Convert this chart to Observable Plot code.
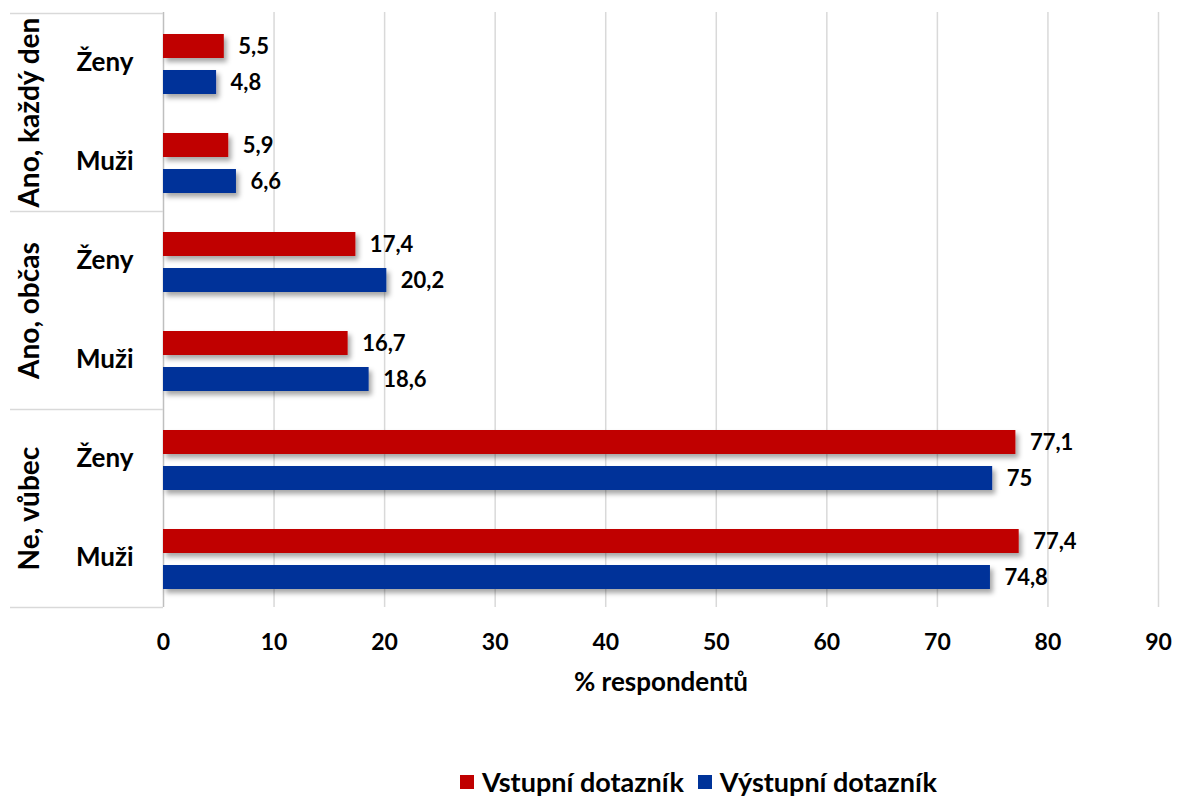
<!DOCTYPE html>
<html>
<head>
<meta charset="utf-8">
<script src="https://cdn.jsdelivr.net/npm/d3@7"></script>
<script src="https://cdn.jsdelivr.net/npm/@observablehq/plot@0.6"></script>
<style>
  body { margin: 0; background: #fff; font-family: Lato, "Open Sans", sans-serif; }
  #wrap { position: relative; width: 1177px; height: 800px; }
  #legend { position: absolute; left: 0; width: 1177px; top: 765px; display: flex; justify-content: center; gap: 14px; font-weight: bold; font-size: 27px; color: #000; padding-left: 220px; box-sizing: border-box; }
  #legend .item { display: flex; align-items: center; gap: 8px; }
  #legend .sw { width: 14px; height: 14px; display: inline-block; }
</style>
</head>
<body>
<div id="wrap"><div id="chart"></div><div id="legend"></div></div>
<script>
const groups = ["Ano, každý den", "Ano, občas", "Ne, vůbec"];
const genders = ["Ženy", "Muži"];
const seriesNames = ["Vstupní dotazník", "Výstupní dotazník"];
const seriesColors = ["#c00000", "#003399"];
// values in order: group x gender
const vstupni = [5.5, 5.9, 17.4, 16.7, 77.1, 77.4];
const vystupni = [4.8, 6.6, 20.2, 18.6, 75, 74.8];
const xTicks = [0, 10, 20, 30, 40, 50, 60, 70, 80, 90];
const xTitle = "% respondentů";

const keys = [];
const rows = [];
groups.forEach((g, gi) => genders.forEach((s, si) => {
  const i = gi * genders.length + si;
  const key = g + "|" + s;
  keys.push(key);
  rows.push({key, group: g, gender: s, vstupni: vstupni[i], vystupni: vystupni[i]});
}));
const groupFirst = groups.map(g => ({group: g, key: g + "|" + genders[0]}));
const fmt = v => String(v).replace(".", ",");

const font = 'Lato, "Open Sans", sans-serif';
const plot = Plot.plot({
  width: 1177,
  height: 720,
  marginLeft: 163,
  marginRight: 19,
  marginTop: 12,
  marginBottom: 113,
  style: {fontFamily: font, fontWeight: "bold", color: "#000", background: "#fff"},
  x: {domain: [0, 90], ticks: xTicks, label: null},
  y: {type: "band", domain: keys, padding: 0, label: null},
  marks: [
    Plot.gridX(xTicks.slice(1), {stroke: "#d9d9d9", strokeOpacity: 1, strokeWidth: 1.5}),
    Plot.ruleX([0], {stroke: "#bfbfbf", strokeWidth: 1.5}),
    // group dividers in the label panel
    Plot.ruleY(groupFirst, {y: "key", x1: -13.84, x2: 0, dy: -49.6, stroke: "#d9d9d9", strokeWidth: 1.5}),
    Plot.ruleY([keys[keys.length - 1]], {y: d => d, x1: -13.84, x2: 0, dy: 49.6, stroke: "#d9d9d9", strokeWidth: 1.5}),
    Plot.barX(rows, {y: "key", x: "vstupni", fill: seriesColors[0], insetTop: 21, insetBottom: 54}),
    Plot.barX(rows, {y: "key", x: "vystupni", fill: seriesColors[1], insetTop: 57, insetBottom: 18}),
    Plot.text(rows, {y: "key", x: "vstupni", text: d => fmt(d.vstupni), dy: -16.5, dx: 14, textAnchor: "start", fontSize: 22, fontWeight: "bold", fill: "#000"}),
    Plot.text(rows, {y: "key", x: "vystupni", text: d => fmt(d.vystupni), dy: 19.5, dx: 14, textAnchor: "start", fontSize: 22, fontWeight: "bold", fill: "#000"}),
    Plot.axisY({tickSize: 0, tickPadding: 30, tickFormat: d => d.split("|")[1], fontSize: 26, fontWeight: "bold"}),
    Plot.text(groupFirst, {y: "key", frameAnchor: "left", textAnchor: "middle", dx: -133, dy: 49.6, rotate: -90, text: "group", fontSize: 28, fontWeight: "bold", fill: "#000"}),
    Plot.axisX({ticks: xTicks, tickSize: 0, tickPadding: 26, fontSize: 23, fontWeight: "bold", label: null}),
    Plot.text([xTitle], {frameAnchor: "bottom", dy: 83, text: d => d, fontSize: 26, fontWeight: "bold", fill: "#000"})
  ]
});

// drop shadow for bars
const defs = d3.select(plot).insert("defs", ":first-child");
const f = defs.append("filter").attr("id", "shadow").attr("x", "-10%").attr("y", "-30%").attr("width", "130%").attr("height", "180%");
f.append("feDropShadow").attr("dx", 3).attr("dy", 4).attr("stdDeviation", 2.5).attr("flood-color", "#000").attr("flood-opacity", 0.35);
d3.select(plot).selectAll('g[aria-label="bar"]').attr("filter", "url(#shadow)");

document.getElementById("chart").appendChild(plot);

const legend = document.getElementById("legend");
seriesNames.forEach((n, i) => {
  const item = document.createElement("span");
  item.className = "item";
  const sw = document.createElement("span");
  sw.className = "sw";
  sw.style.background = seriesColors[i];
  item.appendChild(sw);
  item.appendChild(document.createTextNode(n));
  legend.appendChild(item);
});
</script>
</body>
</html>
